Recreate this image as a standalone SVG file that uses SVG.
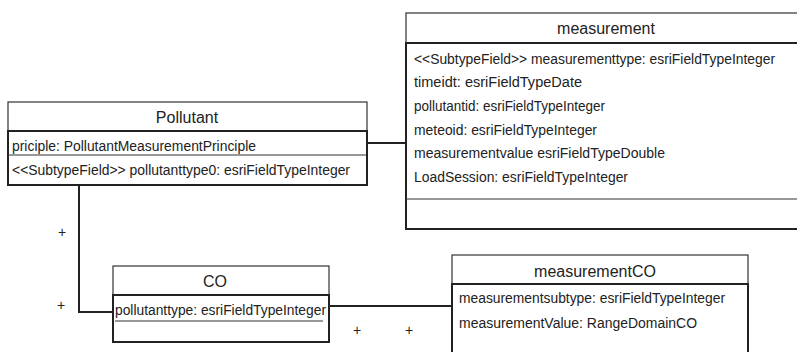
<svg xmlns="http://www.w3.org/2000/svg" width="797" height="352" viewBox="0 0 797 352">
<style>
.title{font-family:"Liberation Sans",Arial,sans-serif;font-size:16px;fill:#222;text-anchor:middle}
.attr{font-family:"Liberation Sans",Arial,sans-serif;font-size:14px;fill:#222}
.thin{fill:#fff;stroke:#333;stroke-width:1.2}
.thick{fill:none;stroke:#222;stroke-width:2}
.div{stroke:#333;stroke-width:1.2}
.conn{fill:none;stroke:#222;stroke-width:2}
.plus{font-family:"Liberation Sans",Arial,sans-serif;font-size:14px;fill:#222;text-anchor:middle}
</style>
<rect width="797" height="352" fill="#fff"/>
<g id="connectors">
<path class="conn" d="M367 143 H406"/>
<path class="conn" d="M79 185 V312 H113"/>
<path class="conn" d="M329 306 H452"/>
<text class="plus" x="62" y="237">+</text>
<text class="plus" x="61" y="310">+</text>
<text class="plus" x="357" y="335">+</text>
<text class="plus" x="409" y="335">+</text>
</g>
<g id="measurement">
<rect class="thin" x="406" y="13" width="400" height="30"/>
<rect class="thick" x="406" y="43" width="400" height="186"/>
<line class="div" x1="406" y1="199" x2="806" y2="199"/>
<text class="title" x="606" y="34">measurement</text>
<text class="attr" x="414" y="64" textLength="361" lengthAdjust="spacingAndGlyphs">&lt;&lt;SubtypeField&gt;&gt; measurementtype: esriFieldTypeInteger</text>
<text class="attr" x="414" y="87" textLength="168" lengthAdjust="spacingAndGlyphs">timeidt: esriFieldTypeDate</text>
<text class="attr" x="414" y="111" textLength="191" lengthAdjust="spacingAndGlyphs">pollutantid: esriFieldTypeInteger</text>
<text class="attr" x="414" y="135" textLength="183" lengthAdjust="spacingAndGlyphs">meteoid: esriFieldTypeInteger</text>
<text class="attr" x="414" y="158" textLength="251" lengthAdjust="spacingAndGlyphs">measurementvalue esriFieldTypeDouble</text>
<text class="attr" x="414" y="182" textLength="214" lengthAdjust="spacingAndGlyphs">LoadSession: esriFieldTypeInteger</text>
</g>
<g id="pollutant">
<rect class="thin" x="8" y="102" width="359" height="29"/>
<rect class="thick" x="8" y="131" width="359" height="54"/>
<line class="div" x1="8" y1="155" x2="367" y2="155"/>
<text class="title" x="187" y="123">Pollutant</text>
<text class="attr" x="12" y="151" textLength="244" lengthAdjust="spacingAndGlyphs">priciple: PollutantMeasurementPrinciple</text>
<text class="attr" x="12" y="175" textLength="338" lengthAdjust="spacingAndGlyphs">&lt;&lt;SubtypeField&gt;&gt; pollutanttype0: esriFieldTypeInteger</text>
</g>
<g id="co">
<rect class="thin" x="113" y="266" width="216" height="29"/>
<rect class="thick" x="113" y="295" width="216" height="47"/>
<text class="title" x="215" y="287">CO</text>
<text class="attr" x="115" y="315" textLength="211" lengthAdjust="spacingAndGlyphs">pollutanttype: esriFieldTypeInteger</text>
<line class="div" x1="115" y1="321" x2="323" y2="321"/>
</g>
<g id="measurementCO">
<rect class="thin" x="452" y="255" width="296" height="29"/>
<rect class="thick" x="452" y="284" width="296" height="80"/>
<text class="title" x="595" y="277">measurementCO</text>
<text class="attr" x="459" y="303" textLength="266" lengthAdjust="spacingAndGlyphs">measurementsubtype: esriFieldTypeInteger</text>
<text class="attr" x="459" y="328" textLength="238" lengthAdjust="spacingAndGlyphs">measurementValue: RangeDomainCO</text>
</g>
</svg>
